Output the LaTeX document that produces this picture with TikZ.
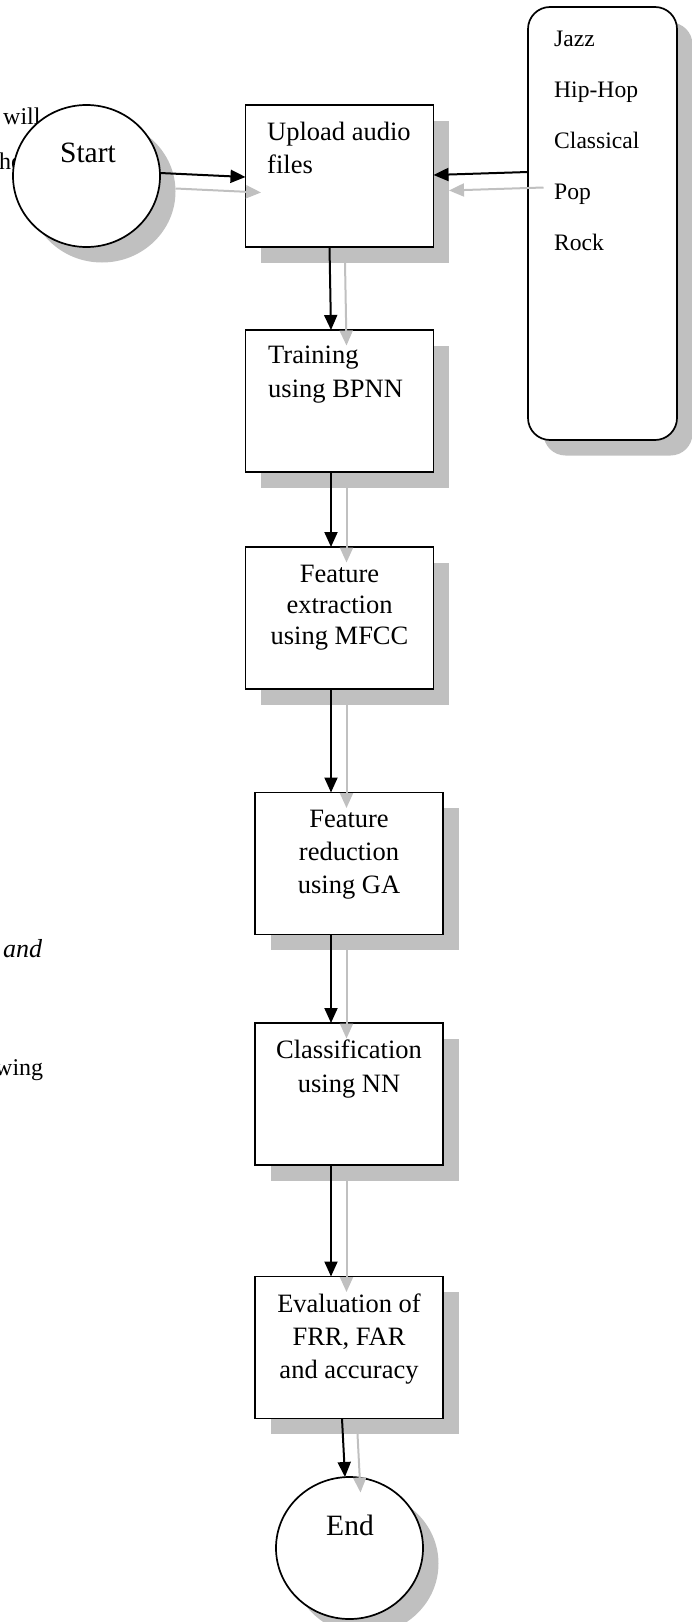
\documentclass[tikz,border=0pt]{standalone}
\usepackage{fontspec}
\setmainfont{Liberation Serif}
\usetikzlibrary{shapes.geometric,shadows,arrows.meta}
\definecolor{shadowgray}{RGB}{192,192,192}

\newcommand\bodyfont{\fontsize{26.5pt}{33pt}\selectfont}
\newcommand\termfont{\fontsize{29.5pt}{36pt}\selectfont}
\newcommand\genrefont{\fontsize{23.6pt}{28pt}\selectfont}
\newcommand\pagefont{\fontsize{24pt}{29pt}\selectfont}

% black connector plus its grey offset copy
% #1 source anchor, #2/#3 its x/y offsets, #4 target anchor, #5/#6 its x/y offsets
\newcommand\linkpair[6]{%
  \draw[ghostarrow] ([xshift=#2+15.5pt,yshift=#3-15.5pt]#1) -- ([xshift=#5+15.5pt,yshift=#6-15.5pt]#4);
  \draw[flowarrow] ([xshift=#2,yshift=#3]#1) -- ([xshift=#5,yshift=#6]#4);}

\tikzset{
  castshadow/.style={drop shadow={shadow xshift=15.5pt,shadow yshift=-15.5pt,fill=shadowgray,opacity=1}},
  procbox/.style={draw, line width=1.7pt, fill=white, minimum width=188pt, minimum height=142pt,
    inner sep=0pt, outer sep=0pt, castshadow},
  termnode/.style={ellipse, draw, line width=1.7pt, fill=white, minimum width=147pt, minimum height=142pt,
    inner sep=0pt, outer sep=0pt, castshadow},
  genrebox/.style={draw, rounded corners=22pt, line width=1.7pt, fill=white, minimum width=149pt,
    minimum height=433pt, inner sep=0pt, outer sep=0pt, castshadow},
  txt/.style={font=\bodyfont, inner sep=0pt, anchor=base},
  txtl/.style={font=\bodyfont, inner sep=0pt, anchor=base west},
  genre/.style={font=\genrefont, inner sep=0pt, anchor=base west},
  pagetext/.style={font=\pagefont, inner sep=0pt, anchor=base west},
  flowarrow/.style={line width=2pt, -{Triangle[length=15pt,width=13pt]}},
  ghostarrow/.style={flowarrow, draw=shadowgray, fill=shadowgray},
}

\begin{document}
\begin{tikzpicture}[x=1pt,y=-1pt]
\useasboundingbox (0,0) rectangle (692,1622);

% surrounding page words
\node[pagetext] (pw1) at (3,124) {will};
\node[pagetext] (pw2) at (-1,169) {he};
\node[pagetext, font=\fontsize{26pt}{30pt}\selectfont\itshape] (pw3) at (3,957) {and};
\node[pagetext] (pw4) at (-5,1075) {wing};

% shapes
\node[termnode] (start) at (86.5,176) {};
\node[procbox] (upload) at (339.5,176) {};
\node[genrebox] (genres) at (602.5,223.5) {};
\node[procbox] (training) at (339.5,401) {};
\node[procbox] (mfcc) at (339.5,618) {};
\node[procbox] (ga) at (349,863.5) {};
\node[procbox] (classify) at (349,1094) {};
\node[procbox] (evaluate) at (349,1347.5) {};
\node[termnode] (finish) at (349.5,1548) {};

% texts
\node[txt, font=\termfont] (t-start) at (88,162) {Start};
\node[txtl] (t-up1) at (267,140) {Upload audio};
\node[txtl] (t-up2) at (267,173) {files};
\node[genre] (g1) at (554,46) {Jazz};
\node[genre] (g2) at (554,97) {Hip-Hop};
\node[genre] (g3) at (554,148) {Classical};
\node[genre] (g4) at (554,199) {Pop};
\node[genre] (g5) at (554,250) {Rock};
\node[txtl] (t-tr1) at (268,363) {Training};
\node[txtl] (t-tr2) at (268,397) {using BPNN};
\node[txt] (t-fe1) at (339.5,582) {Feature};
\node[txt] (t-fe2) at (339.5,613) {extraction};
\node[txt] (t-fe3) at (339.5,644) {using MFCC};
\node[txt] (t-fr1) at (349,827) {Feature};
\node[txt] (t-fr2) at (349,860) {reduction};
\node[txt] (t-fr3) at (349,893) {using GA};
\node[txt] (t-cl1) at (349,1058) {Classification};
\node[txt] (t-cl2) at (349,1092) {using NN};
\node[txt] (t-ev1) at (349,1312) {Evaluation of};
\node[txt] (t-ev2) at (349,1345) {FRR, FAR};
\node[txt] (t-ev3) at (349,1378) {and accuracy};
\node[txt, font=\termfont] (t-end) at (350,1535) {End};

% connectors
\linkpair{start.east}{0pt}{3pt}{upload.west}{0pt}{-1pt}
\linkpair{genres.west}{0pt}{51.5pt}{upload.east}{0pt}{1pt}
\linkpair{upload.south}{-10pt}{0pt}{training.north}{-8.5pt}{0pt}
\linkpair{training.south}{-8.5pt}{0pt}{mfcc.north}{-8.5pt}{0pt}
\linkpair{mfcc.south}{-8.5pt}{0pt}{ga.north}{-18pt}{0pt}
\linkpair{ga.south}{-18pt}{0pt}{classify.north}{-18pt}{0pt}
\linkpair{classify.south}{-18pt}{0pt}{evaluate.north}{-18pt}{0pt}
\linkpair{evaluate.south}{-7pt}{0pt}{finish.north}{-4.5pt}{0pt}
\end{tikzpicture}
\end{document}
